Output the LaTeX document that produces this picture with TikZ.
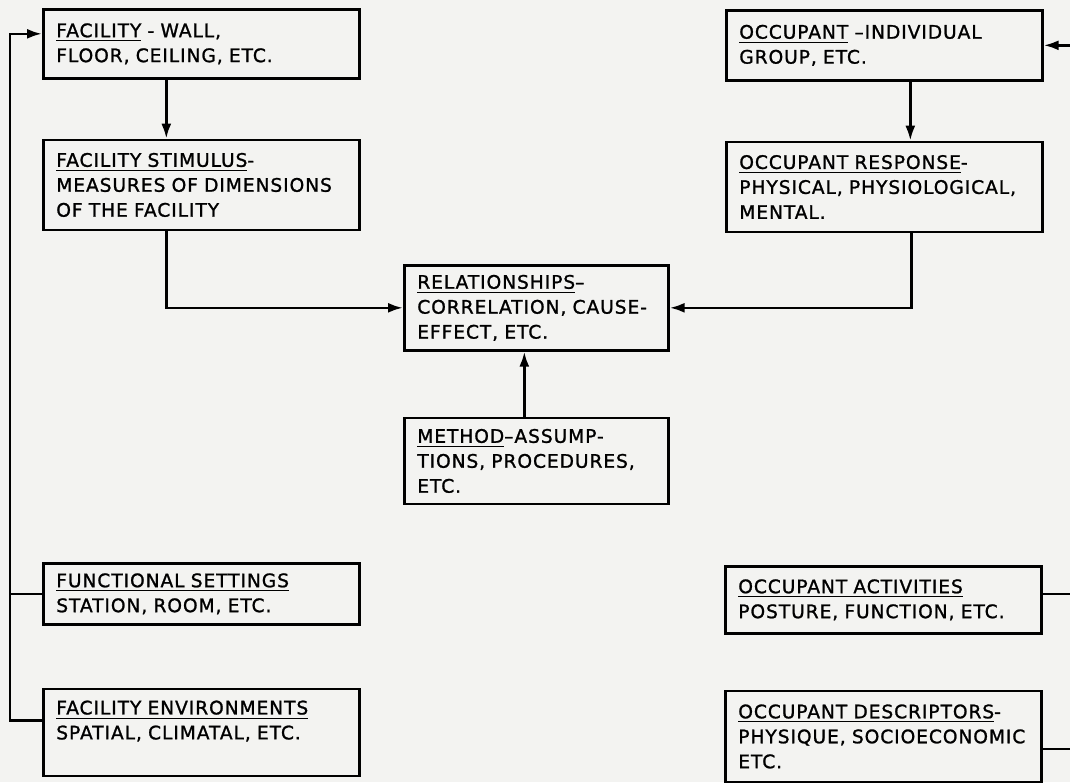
\documentclass[tikz,border=0pt]{standalone}
\usepackage{fontspec}
\setmainfont{DejaVu Sans}[LetterSpace=5,FakeBold=1.2]
\usetikzlibrary{positioning,arrows.meta}
\definecolor{paper}{RGB}{243,243,241}
\newcommand\headline[1]{\underline{#1\vrule depth 0.6pt width 0pt}}

\begin{document}
\begin{tikzpicture}[
		box/.style={draw, line width=1.5pt, text width=5.8cm, inner xsep=0.26cm, inner ysep=0pt,
			align=left, anchor=north west, font=\fontsize{10.6}{14.2}\selectfont},
		midbox/.style={box, text width=4.76cm},
		link/.style={line width=1.5pt},
		arr/.style={link, -{Latex[length=3mm,width=2mm]}},
	]
	\fill[paper] (0,0) rectangle (21.4,-15.64);
	\useasboundingbox (0,0) rectangle (21.4,-15.64);

	% facility side
	\node[box, minimum height=1.38cm] (fac) at (0.84,-0.16) {\headline{FACILITY} - WALL,\\FLOOR, CEILING, ETC.};
	\node[box, minimum height=1.8cm, below=1.18cm of fac] (stim) {\headline{FACILITY STIMULUS}-\\MEASURES OF DIMENSIONS\\OF THE FACILITY};
	\node[box, minimum height=1.22cm] (func) at (0.84,-11.24) {\headline{FUNCTIONAL SETTINGS}\\STATION, ROOM, ETC.};
	\node[box, minimum height=1.74cm, below=1.24cm of func] (env) {\headline{FACILITY ENVIRONMENTS}\\SPATIAL, CLIMATAL, ETC.\\\mbox{}};

	% occupant side
	\node[box, minimum height=1.4cm] (occ) at (14.5,-0.18) {\headline{OCCUPANT} --INDIVIDUAL\\GROUP, ETC.};
	\node[box, minimum height=1.8cm, below=1.18cm of occ] (resp) {\headline{OCCUPANT RESPONSE}-\\PHYSICAL, PHYSIOLOGICAL,\\MENTAL.};
	\node[box, minimum height=1.34cm] (act) at (14.48,-11.3) {\headline{OCCUPANT ACTIVITIES}\\POSTURE, FUNCTION, ETC.};
	\node[box, minimum height=1.82cm, below=1.1cm of act] (desc) {\headline{OCCUPANT DESCRIPTORS}-\\PHYSIQUE, SOCIOECONOMIC\\ETC.};

	% middle
	\node[midbox, minimum height=1.7cm] (rel) at (8.06,-5.28) {\headline{RELATIONSHIPS}--\\CORRELATION, CAUSE-\\EFFECT, ETC.};
	\node[midbox, minimum height=1.72cm, below=1.3cm of rel] (meth) {\headline{METHOD}--ASSUMP-\\TIONS, PROCEDURES,\\ETC.};

	% connectors
	\draw[arr] ([xshift=-0.7cm]fac.south) -- ([xshift=-0.7cm]stim.north);
	\draw[arr] ([xshift=0.52cm]occ.south) -- ([xshift=0.52cm]resp.north);
	\draw[arr] ([xshift=-0.7cm]stim.south) |- (rel.west);
	\draw[arr] ([xshift=0.54cm]resp.south) |- (rel.east);
	\draw[arr] ([xshift=-0.24cm]meth.north) -- ([xshift=-0.24cm]rel.south);

	\draw[arr] ([yshift=0.24cm]env.west) -- ++(-0.64,0) |- ([yshift=0.2cm]fac.west);
	\draw[link] (func.west) -- ++(-0.64,0);
	\draw[arr] ([yshift=-0.25cm]desc.east) -- ++(0.7,0) |- (occ.east);
	\draw[link] ([yshift=0.12cm]act.east) -- ++(0.7,0);
\end{tikzpicture}
\end{document}
